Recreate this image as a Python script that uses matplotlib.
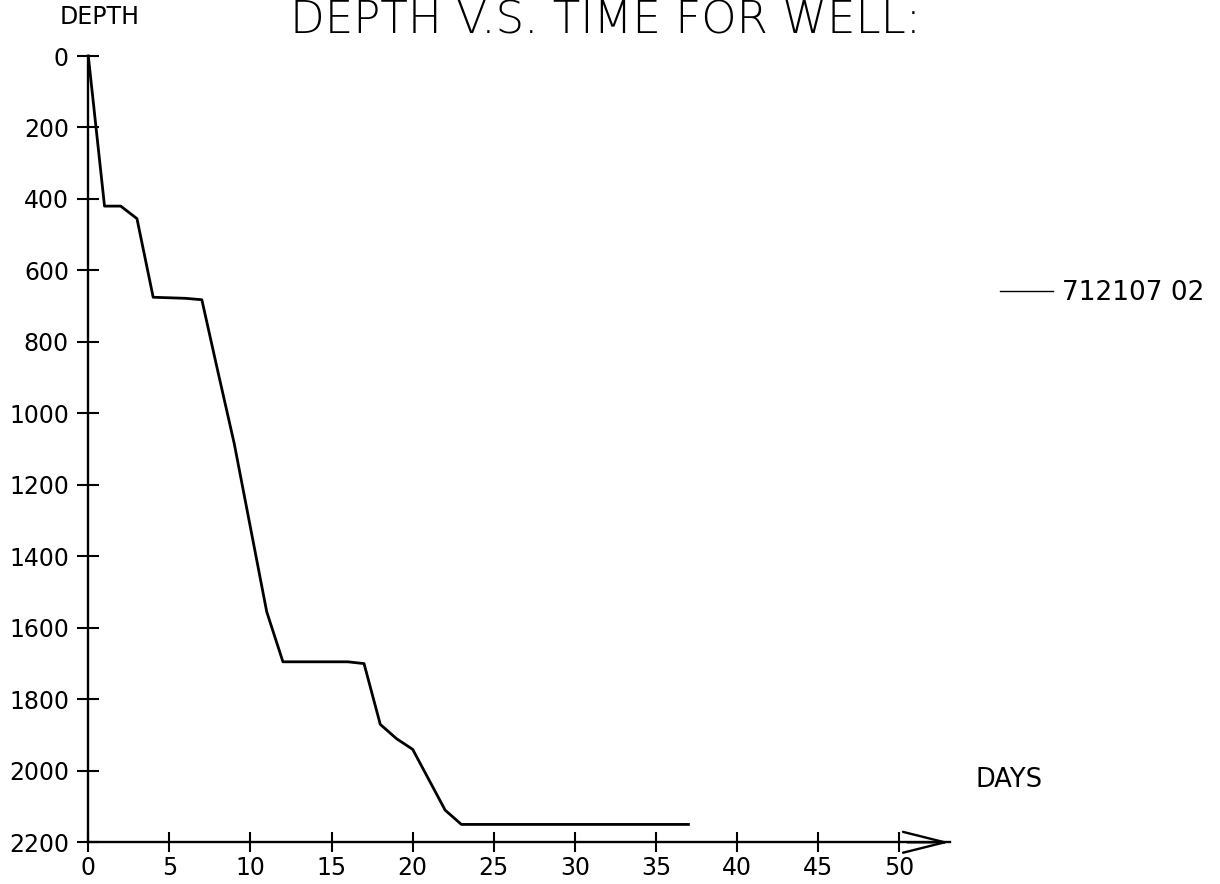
import matplotlib
matplotlib.use('Agg')
import matplotlib.pyplot as plt

# Profundidad del pozo vs. dias
days = [0, 1, 2, 3, 4, 6, 7, 8, 9, 10, 11, 12, 16, 17, 18, 19, 20, 21, 22, 23, 37]
depth = [0, 420, 420, 455, 675, 678, 682, 885, 1085, 1320, 1555, 1695, 1695,
         1700, 1870, 1910, 1940, 2025, 2110, 2150, 2150]
x_ticks = list(range(0, 51, 5))
y_ticks = list(range(0, 2201, 200))
well = '712107 02'
title = 'DEPTH V.S. TIME FOR WELL:'

W, H = 1220, 884
fig = plt.figure(figsize=(W / 100, H / 100), dpi=100)

# Ejes colocados en pixeles para calzar con la figura original
x0, px_day = 88.3, 16.22
y_top, y_bot = 56.0, 842.3
xmax = 54
ax = fig.add_axes([x0 / W, (H - y_bot) / H, xmax * px_day / W, (y_bot - y_top) / H])
ax.set_xlim(0, xmax)
ax.set_ylim(2200, 0)

for s in ['top', 'right']:
    ax.spines[s].set_visible(False)
ax.spines['left'].set_linewidth(1.7)
ax.spines['bottom'].set_linewidth(1.7)
ax.spines['bottom'].set_bounds(0, 53.1)

ax.set_xticks(x_ticks)
ax.set_yticks(y_ticks)
ax.tick_params(axis='x', direction='inout', length=14.4, width=1.5, labelsize=17, pad=3)
ax.tick_params(axis='y', direction='inout', length=15.8, width=1.5, labelsize=17, pad=6)

# Flecha del eje de dias
ax.annotate('', xy=(53.1, 2200), xytext=(50.5, 2200),
            arrowprops=dict(arrowstyle='->,head_length=3,head_width=0.75',
                            lw=1.7, color='black', shrinkA=0, shrinkB=0))

# Curva de profundidad
ax.plot(days, depth, color='black', lw=2.0, clip_on=False, label=well)

leg = ax.legend(loc='center left', bbox_to_anchor=(1000 / W, 1 - 293 / H),
                bbox_transform=fig.transFigure, frameon=False, fontsize=19,
                handlelength=2.0, handletextpad=0.35, borderpad=0, borderaxespad=0)
for h in leg.get_lines():
    h.set_linewidth(1.0)

# Etiquetas de los ejes
fig.text(100 / W, 1 - 17 / H, 'DEPTH', ha='center', va='center', fontsize=17)
fig.text(975 / W, 1 - 780 / H, 'DAYS', ha='left', va='center', fontsize=18.5)

# Titulo ajustado al ancho original
t = fig.text(606 / W, 1 - 33 / H, title, ha='center', va='baseline', fontsize=30,
             fontweight='light')
fig.canvas.draw()
w = t.get_window_extent().width
t.set_fontsize(30 * 632 / w)

fig.savefig('out.png', dpi=100)
